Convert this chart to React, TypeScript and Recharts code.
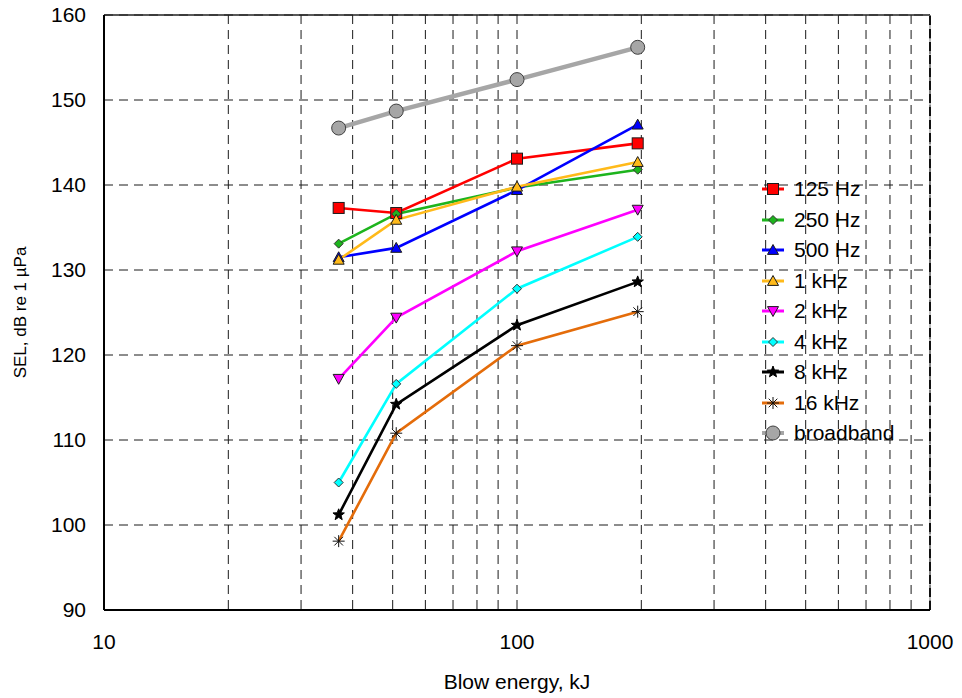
import React from 'react';
import { LineChart, Line, XAxis, YAxis, CartesianGrid, ReferenceLine, Legend } from 'recharts';

// blow energy (kJ) at the four measured points
const energies = [37, 51, 100, 196];

// SEL per band, dB re 1 µPa
const hz125 = [137.3, 136.7, 143.1, 144.9];
const hz250 = [133.1, 136.6, 139.7, 141.8];
const hz500 = [131.5, 132.6, 139.4, 147.1];
const khz1 = [131.2, 135.9, 139.8, 142.7];
const khz2 = [117.2, 124.4, 132.2, 137.1];
const khz4 = [105.0, 116.6, 127.8, 133.9];
const khz8 = [101.2, 114.2, 123.5, 128.6];
const khz16 = [98.1, 110.8, 121.1, 125.1];
const broadband = [146.7, 148.7, 152.4, 156.2];

const xTicks = [10, 20, 30, 40, 50, 60, 70, 80, 90, 100, 200, 300, 400, 500, 600, 700, 800, 900, 1000];
const xLabels = [10, 100, 1000];
const yTicks = [90, 100, 110, 120, 130, 140, 150, 160];

const FONT = '"Liberation Sans", Arial, sans-serif';

type MarkerKind = 'square' | 'diamond' | 'triUp' | 'triDown' | 'star' | 'asterisk' | 'circle';

interface Series {
  key: string;
  name: string;
  values: number[];
  color: string;
  marker: MarkerKind;
  fill: string;
  size: number;
  width: number;
}

const series: Series[] = [
  { key: 'hz125', name: '125 Hz', values: hz125, color: '#FF0000', marker: 'square', fill: '#FF0000', size: 11, width: 2.6 },
  { key: 'hz250', name: '250 Hz', values: hz250, color: '#1DB41D', marker: 'diamond', fill: '#1DB41D', size: 9, width: 2.6 },
  { key: 'hz500', name: '500 Hz', values: hz500, color: '#0000FF', marker: 'triUp', fill: '#0000FF', size: 11, width: 2.6 },
  { key: 'khz1', name: '1 kHz', values: khz1, color: '#FFBA1A', marker: 'triUp', fill: '#FFBA1A', size: 11, width: 2.6 },
  { key: 'khz2', name: '2 kHz', values: khz2, color: '#FF00FF', marker: 'triDown', fill: '#FF00FF', size: 11, width: 2.6 },
  { key: 'khz4', name: '4 kHz', values: khz4, color: '#00FFFF', marker: 'diamond', fill: '#00FFFF', size: 9, width: 2.6 },
  { key: 'khz8', name: '8 kHz', values: khz8, color: '#000000', marker: 'star', fill: '#000000', size: 12, width: 2.6 },
  { key: 'khz16', name: '16 kHz', values: khz16, color: '#E46C0A', marker: 'asterisk', fill: 'none', size: 12, width: 2.6 },
  { key: 'broadband', name: 'broadband', values: broadband, color: '#A6A6A6', marker: 'circle', fill: '#A6A6A6', size: 14, width: 4.5 },
];

const data = energies.map((e, i) => {
  const row: Record<string, number> = { energy: e };
  series.forEach((s) => {
    row[s.key] = s.values[i];
  });
  return row;
});

function Marker({ cx, cy, s }: { cx: number; cy: number; s: Series }) {
  const h = s.size / 2;
  const edge = '#1a1a1a';
  switch (s.marker) {
    case 'square':
      return <rect x={cx - h} y={cy - h} width={s.size} height={s.size} fill={s.fill} stroke={edge} strokeWidth={1} />;
    case 'diamond':
      return (
        <polygon
          points={`${cx},${cy - h} ${cx + h},${cy} ${cx},${cy + h} ${cx - h},${cy}`}
          fill={s.fill}
          stroke="#333"
          strokeWidth={1}
        />
      );
    case 'triUp':
      return (
        <polygon
          points={`${cx},${cy - h} ${cx + h},${cy + h * 0.8} ${cx - h},${cy + h * 0.8}`}
          fill={s.fill}
          stroke={edge}
          strokeWidth={1}
        />
      );
    case 'triDown':
      return (
        <polygon
          points={`${cx - h},${cy - h * 0.8} ${cx + h},${cy - h * 0.8} ${cx},${cy + h}`}
          fill={s.fill}
          stroke={edge}
          strokeWidth={1}
        />
      );
    case 'star': {
      const pts: string[] = [];
      for (let k = 0; k < 10; k++) {
        const r = k % 2 === 0 ? h : h * 0.42;
        const a = -Math.PI / 2 + (k * Math.PI) / 5;
        pts.push(`${cx + r * Math.cos(a)},${cy + r * Math.sin(a)}`);
      }
      return <polygon points={pts.join(' ')} fill="#000" stroke="#000" strokeWidth={1} />;
    }
    case 'asterisk': {
      const d = h * 0.72;
      return (
        <g stroke="#111" strokeWidth={1}>
          <line x1={cx} y1={cy - h} x2={cx} y2={cy + h} />
          <line x1={cx - h} y1={cy} x2={cx + h} y2={cy} />
          <line x1={cx - d} y1={cy - d} x2={cx + d} y2={cy + d} />
          <line x1={cx - d} y1={cy + d} x2={cx + d} y2={cy - d} />
        </g>
      );
    }
    case 'circle':
    default:
      return <circle cx={cx} cy={cy} r={h} fill={s.fill} stroke="#404040" strokeWidth={1} />;
  }
}

function LegendBox() {
  return (
    <div style={{ fontFamily: FONT, fontSize: 21, color: '#000' }}>
      {series.map((s) => (
        <div key={s.key} style={{ display: 'flex', alignItems: 'center', height: 30.5 }}>
          <svg width={24} height={20} style={{ marginRight: 9 }}>
            <line x1={1} y1={10} x2={23} y2={10} stroke={s.color} strokeWidth={s.width > 4 ? 4 : 3} />
            <Marker cx={12} cy={10} s={s} />
          </svg>
          <span>{s.name}</span>
        </div>
      ))}
    </div>
  );
}

function YLabel(props: any) {
  const vb = props.viewBox || { x: 0, y: 0, width: 0, height: 0 };
  const x = vb.x + 26;
  const y = vb.y + vb.height / 2;
  return (
    <text x={x} y={y} transform={`rotate(-90, ${x}, ${y})`} textAnchor="middle" fontSize={17} fontFamily={FONT} fill="#000">
      SEL, dB re 1 µPa
    </text>
  );
}

function XLabel(props: any) {
  const vb = props.viewBox || { x: 0, y: 0, width: 0, height: 0 };
  return (
    <text x={vb.x + vb.width / 2} y={vb.y + 79} textAnchor="middle" fontSize={21} fontFamily={FONT} fill="#000">
      Blow energy, kJ
    </text>
  );
}

export default function App() {
  return (
    <div style={{ position: 'absolute', left: 0, top: 0, width: 962, height: 698, background: '#fff' }}>
      <LineChart width={962} height={698} data={data} margin={{ top: 15, right: 32, left: 0, bottom: 0 }}>
        <CartesianGrid stroke="#1a1a1a" strokeDasharray="9 6" strokeWidth={1} />
        <XAxis
          dataKey="energy"
          type="number"
          scale="log"
          domain={[10, 1000]}
          ticks={xTicks}
          interval={0}
          allowDataOverflow
          tickFormatter={(v: number) => (xLabels.includes(v) ? String(v) : '')}
          tickLine={false}
          tickSize={0}
          tickMargin={24}
          height={88}
          stroke="#000"
          strokeWidth={2}
          tick={{ fill: '#000', fontSize: 21, fontFamily: FONT }}
          label={<XLabel />}
        />
        <YAxis
          type="number"
          domain={[90, 160]}
          ticks={yTicks}
          interval={0}
          tickLine={false}
          tickSize={0}
          tickMargin={18}
          width={104}
          stroke="#000"
          strokeWidth={2}
          tick={{ fill: '#000', fontSize: 21, fontFamily: FONT }}
          label={<YLabel />}
        />
        <ReferenceLine y={160} stroke="#222" strokeWidth={1.5} />
        <ReferenceLine x={1000} stroke="#777" strokeWidth={1} />
        <ReferenceLine x={1000} stroke="#111" strokeWidth={2} strokeDasharray="9 4" />
        {series.map((s) => (
          <Line
            key={s.key}
            dataKey={s.key}
            name={s.name}
            type="linear"
            stroke={s.color}
            strokeWidth={s.width}
            isAnimationActive={false}
            dot={(p: any) => <Marker key={`${s.key}-${p.index}`} cx={p.cx} cy={p.cy} s={s} />}
            activeDot={false}
          />
        ))}
        <Legend
          layout="vertical"
          align="center"
          verticalAlign="middle"
          wrapperStyle={{ left: 761, top: 174, width: 190 }}
          content={() => <LegendBox />}
        />
      </LineChart>
    </div>
  );
}
